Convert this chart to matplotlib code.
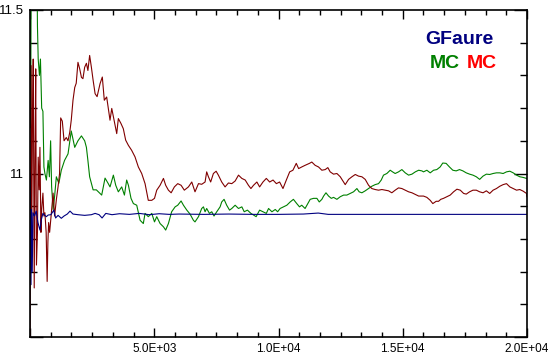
import numpy as np
import matplotlib
matplotlib.use("Agg")
from matplotlib import pyplot as plt
from matplotlib.ticker import MultipleLocator, FixedLocator, FuncFormatter

# GFaure (navy)
gf_x = [0, 40, 60, 90, 120, 180, 250, 320, 400, 460, 520, 590, 660, 730, 840, 960, 1030,
        1130, 1260, 1370, 1500, 1610, 1730, 1930, 2200, 2470, 2620, 2780, 2900, 3050, 3300,
        3600, 4000, 4400, 4800, 5200, 5600, 6000, 7000, 8000, 9000, 10000, 11000, 11600,
        12000, 14000, 16000, 18000, 20000]
gf_y = [11.0, 10.66, 10.89, 10.70, 10.88, 10.87, 10.885, 10.85, 10.827, 10.86, 10.878, 10.872,
        10.868, 10.873, 10.874, 10.888, 10.864, 10.872, 10.863, 10.870, 10.876, 10.885, 10.876,
        10.874, 10.872, 10.874, 10.878, 10.874, 10.864, 10.878, 10.874, 10.877, 10.875, 10.878,
        10.874, 10.877, 10.875, 10.876, 10.875, 10.876, 10.875, 10.875, 10.876, 10.879, 10.875,
        10.875, 10.875, 10.875, 10.875]

# MC (green)
mcg_x = [0, 25, 60, 250, 300, 330, 380, 420, 470, 520, 560, 600, 660, 730, 780, 830, 870, 930,
         990, 1060, 1160, 1260, 1390, 1530, 1660, 1800, 1930, 2070, 2200, 2270, 2330, 2400,
         2540, 2670, 2750, 2885, 3020, 3150, 3220, 3355, 3450, 3555, 3690, 3800, 3890, 3960,
         4065, 4160, 4295, 4430, 4560, 4630, 4760, 4900, 5010, 5100, 5235, 5370, 5460, 5570,
         5700, 5840, 5945, 6080, 6175, 6310, 6440, 6575, 6640, 6780, 6910, 6980, 7045, 7110,
         7220, 7315, 7405, 7515, 7650, 7715, 7810, 7915, 8030, 8120, 8255, 8390, 8525, 8620,
         8750, 8890, 8995, 9100, 9240, 9375, 9510, 9600, 9735, 9870, 9965, 10065, 10200,
         10335, 10470, 10600, 10735, 10845, 10935, 11070, 11180, 11275, 11410, 11545, 11640,
         11745, 11815, 11910, 12015, 12125, 12215, 12350, 12485, 12620, 12750, 12885, 13020,
         13155, 13245, 13355, 13490, 13625, 13755, 13890, 14025, 14135, 14225, 14360, 14495,
         14590, 14695, 14830, 14965, 15100, 15235, 15370, 15505, 15640, 15770, 15835, 15970,
         16105, 16240, 16370, 16505, 16610, 16745, 16880, 17015, 17150, 17285, 17420, 17555,
         17690, 17825, 17960, 18095, 18230, 18365, 18500, 18635, 18770, 18905, 19040, 19175,
         19310, 19445, 19580, 19710, 19845, 19980]
mcg_y = [11.9, 11.14, 11.9, 11.9, 11.45, 11.35, 11.30, 11.35, 11.20, 11.19, 11.02, 11.0, 10.98,
         11.04, 10.99, 11.10, 10.96, 10.89, 10.93, 10.99, 10.97, 11.01, 11.04, 11.06, 11.13,
         11.08, 11.10, 11.115, 11.10, 11.08, 11.04, 10.99, 10.95, 10.95, 10.944, 10.934,
         10.986, 10.969, 10.959, 10.995, 10.964, 10.944, 10.959, 10.934, 10.980, 10.964,
         10.924, 10.908, 10.903, 10.857, 10.847, 10.878, 10.868, 10.878, 10.852, 10.868,
         10.847, 10.837, 10.827, 10.847, 10.883, 10.898, 10.903, 10.916, 10.903, 10.888,
         10.876, 10.857, 10.852, 10.868, 10.893, 10.898, 10.883, 10.893, 10.878, 10.883,
         10.870, 10.883, 10.898, 10.913, 10.921, 10.903, 10.888, 10.893, 10.903, 10.893,
         10.898, 10.883, 10.888, 10.878, 10.873, 10.868, 10.888, 10.883, 10.878, 10.893,
         10.883, 10.890, 10.883, 10.893, 10.898, 10.903, 10.913, 10.921, 10.908, 10.898,
         10.903, 10.893, 10.908, 10.921, 10.924, 10.924, 10.913, 10.921, 10.931, 10.941,
         10.931, 10.924, 10.927, 10.921, 10.929, 10.934, 10.934, 10.939, 10.944, 10.954,
         10.944, 10.941, 10.947, 10.954, 10.961, 10.966, 10.969, 10.980, 10.995, 11.000,
         11.010, 11.005, 11.000, 11.005, 11.012, 11.002, 10.995, 10.998, 11.005, 11.010,
         11.008, 11.005, 11.010, 11.002, 11.010, 11.012, 11.020, 11.032, 11.031, 11.020,
         11.010, 11.008, 11.012, 11.008, 11.002, 10.998, 10.995, 10.990, 10.982, 10.992,
         10.998, 10.997, 11.000, 11.002, 11.002, 11.000, 11.005, 11.007, 11.002, 10.995,
         10.990, 10.988, 10.985]

# MC (dark red)
mcr_x = [0, 25, 45, 70, 100, 130, 170, 200, 230, 260, 300, 330, 370, 400, 440, 470, 520, 560,
         600, 650, 690, 720, 750, 790, 860, 930, 990, 1060, 1130, 1190, 1235, 1300, 1370, 1460,
         1530, 1600, 1660, 1730, 1800, 1860, 1930, 2000, 2070, 2130, 2200, 2270, 2330, 2400,
         2470, 2540, 2620, 2700, 2820, 2910, 2990, 3085, 3220, 3290, 3395, 3490, 3555, 3660,
         3755, 3850, 3960, 4090, 4225, 4360, 4495, 4630, 4760, 4900, 5010, 5100, 5235, 5370,
         5460, 5570, 5680, 5810, 5945, 6080, 6210, 6375, 6510, 6640, 6780, 6910, 7045, 7110,
         7180, 7270, 7380, 7490, 7580, 7715, 7850, 7985, 8120, 8255, 8390, 8525, 8660, 8790,
         8890, 8995, 9130, 9240, 9375, 9510, 9645, 9780, 9915, 10045, 10180, 10315, 10450,
         10580, 10715, 10810, 10935, 11070, 11245, 11340, 11475, 11610, 11745, 11880, 11985,
         12080, 12215, 12350, 12485, 12620, 12685, 12820, 12955, 13090, 13220, 13355, 13490,
         13625, 13755, 13890, 14025, 14160, 14295, 14430, 14560, 14695, 14830, 14965, 15100,
         15235, 15370, 15505, 15640, 15835, 15970, 16105, 16210, 16345, 16440, 16530, 16640,
         16775, 16910, 17045, 17180, 17315, 17450, 17555, 17690, 17825, 17960, 18095, 18230,
         18365, 18500, 18635, 18770, 18905, 19040, 19175, 19310, 19445, 19580, 19710, 19845,
         19980, 20000]
mcr_y = [10.45, 10.95, 11.33, 10.80, 11.15, 11.35, 10.65, 11.05, 11.32, 10.72, 10.82, 11.05,
         10.95, 11.08, 10.82, 10.89, 10.94, 10.87, 10.88, 10.82, 10.67, 10.79, 10.85, 10.82,
         10.88, 10.94, 10.87, 10.92, 10.96, 11.0, 11.17, 11.16, 11.10, 11.11, 11.10, 11.126,
         11.163, 11.224, 11.263, 11.276, 11.34, 11.32, 11.294, 11.29, 11.325, 11.337, 11.315,
         11.361, 11.325, 11.285, 11.244, 11.235, 11.275, 11.295, 11.224, 11.234, 11.163,
         11.199, 11.158, 11.122, 11.168, 11.153, 11.137, 11.102, 11.086, 11.071, 11.051,
         11.020, 11.000, 10.969, 10.918, 10.918, 10.924, 10.949, 10.964, 10.985, 10.964,
         10.949, 10.941, 10.959, 10.969, 10.964, 10.949, 10.959, 10.974, 10.944, 10.969,
         10.967, 10.974, 11.005, 10.990, 10.974, 11.000, 11.007, 10.995, 10.974, 10.959,
         10.971, 10.969, 10.977, 10.995, 10.985, 10.980, 10.964, 10.954, 10.964, 10.974,
         10.959, 10.974, 10.985, 10.974, 10.980, 10.969, 10.974, 10.954, 10.980, 11.005,
         11.010, 11.031, 11.015, 11.020, 11.025, 11.031, 11.035, 11.025, 11.020, 11.010,
         11.012, 11.018, 11.005, 10.998, 11.000, 10.990, 10.974, 10.966, 10.982, 10.990,
         10.997, 10.992, 10.990, 10.982, 10.964, 10.954, 10.951, 10.949, 10.951, 10.949,
         10.947, 10.941, 10.949, 10.956, 10.954, 10.949, 10.944, 10.941, 10.936, 10.931,
         10.931, 10.927, 10.918, 10.908, 10.915, 10.915, 10.921, 10.924, 10.929, 10.934,
         10.944, 10.952, 10.949, 10.939, 10.937, 10.944, 10.949, 10.949, 10.944, 10.941,
         10.947, 10.939, 10.949, 10.954, 10.961, 10.966, 10.969, 10.959, 10.954, 10.949,
         10.951, 10.946, 10.939, 10.929]

y_major = [10.5, 11.0, 11.5]
y_labels = ["", "11", "11.5"]

fig = plt.figure(figsize=(5.5, 3.59), dpi=100)
ax = fig.add_axes([30/550, 22/359, 497/550, 327/359])

ax.plot(mcg_x, mcg_y, color="#008000", lw=0.8)
ax.plot(mcr_x, mcr_y, color="#800000", lw=0.8)
ax.plot(gf_x, gf_y, color="#000080", lw=0.8)

ax.set_xlim(0, 20000)
ax.set_ylim(10.5, 11.5)

ax.xaxis.set_major_locator(MultipleLocator(5000))
ax.xaxis.set_minor_locator(MultipleLocator(5000/6))
ax.xaxis.set_major_formatter(FuncFormatter(lambda v, p: "" if v == 0 else "%.1E" % v))
ax.yaxis.set_major_locator(FixedLocator(y_major))
ax.yaxis.set_minor_locator(MultipleLocator(0.1))
ax.set_yticklabels(y_labels)

ax.tick_params(axis="both", which="both", direction="in", colors="black",
               top=True, right=True, width=1)
ax.tick_params(axis="x", which="major", length=6.5, pad=4, labelsize=8.5)
ax.tick_params(axis="x", which="minor", length=3.3)
ax.tick_params(axis="y", which="major", length=9.5, pad=4, labelsize=9.5)
ax.tick_params(axis="y", which="minor", length=5)
for lab in ax.get_xticklabels() + ax.get_yticklabels():
    lab.set_family("Liberation Sans")

for s in ax.spines.values():
    s.set_linewidth(1.2)
    s.set_color("black")

fig.text(459/550, 1 - 40/359, "GFaure", color="#000080", fontsize=14, fontweight="bold",
         family="Liberation Sans", ha="center", va="center")
fig.text(445/550, 1 - 64/359, "MC", color="#008000", fontsize=14, fontweight="bold",
         family="Liberation Sans", ha="center", va="center")
fig.text(482/550, 1 - 64/359, "MC", color="#ff0000", fontsize=14, fontweight="bold",
         family="Liberation Sans", ha="center", va="center")

fig.savefig("out.png", dpi=100, facecolor="white")
